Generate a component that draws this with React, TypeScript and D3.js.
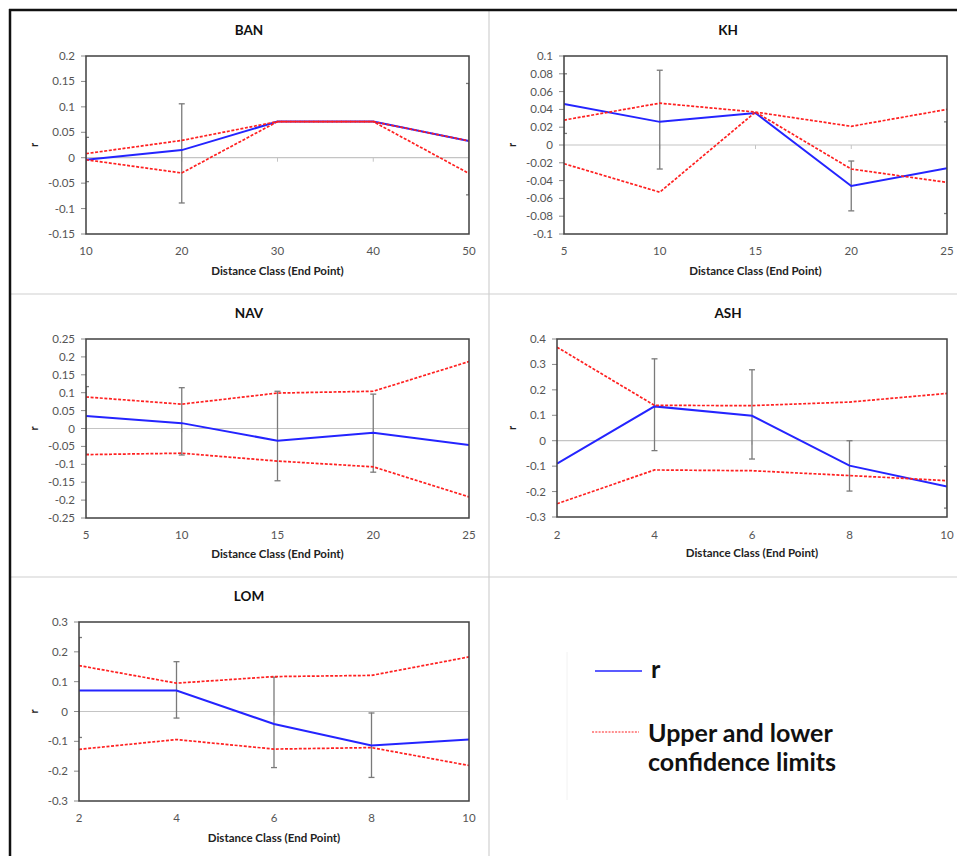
import React from "react";
import * as d3 from "d3";

// Mantel / spatial autocorrelation results per site
const panelNames = ["BAN", "KH", "NAV", "ASH", "LOM"];

const banX = [10, 20, 30, 40, 50];
const banR = [-0.004, 0.015, 0.071, 0.071, 0.033];
const banUpper = [0.008, 0.034, 0.071, 0.071, 0.033];
const banLower = [-0.004, -0.030, 0.071, 0.071, -0.031];
const banErrHigh = [0.040, 0.106, null, null, 0.146];
const banErrLow = [-0.047, -0.089, null, null, -0.073];
const banTicks = ["0.2", "0.15", "0.1", "0.05", "0", "-0.05", "-0.1", "-0.15"];

const khX = [5, 10, 15, 20, 25];
const khR = [0.046, 0.026, 0.036, -0.046, -0.026];
const khUpper = [0.028, 0.047, 0.037, 0.021, 0.040];
const khLower = [-0.021, -0.053, 0.037, -0.027, -0.042];
const khErrHigh = [0.080, 0.084, null, -0.018, 0.026];
const khErrLow = [0.013, -0.027, null, -0.074, -0.077];
const khTicks = ["0.1", "0.08", "0.06", "0.04", "0.02", "0", "-0.02", "-0.04", "-0.06", "-0.08", "-0.1"];

const navX = [5, 10, 15, 20, 25];
const navR = [0.035, 0.015, -0.034, -0.012, -0.046];
const navUpper = [0.088, 0.068, 0.099, 0.104, 0.187];
const navLower = [-0.073, -0.069, -0.091, -0.107, -0.191];
const navErrHigh = [0.117, 0.114, 0.104, 0.096, null];
const navErrLow = [-0.072, -0.074, -0.146, -0.122, null];
const navTicks = ["0.25", "0.2", "0.15", "0.1", "0.05", "0", "-0.05", "-0.1", "-0.15", "-0.2", "-0.25"];

const ashX = [2, 4, 6, 8, 10];
const ashR = [-0.090, 0.135, 0.098, -0.098, -0.180];
const ashUpper = [0.368, 0.139, 0.138, 0.152, 0.186];
const ashLower = [-0.248, -0.115, -0.118, -0.137, -0.157];
const ashErrHigh = [null, 0.322, 0.279, 0.0, -0.101];
const ashErrLow = [null, -0.039, -0.072, -0.198, -0.265];
const ashTicks = ["0.4", "0.3", "0.2", "0.1", "0", "-0.1", "-0.2", "-0.3"];

const lomX = [2, 4, 6, 8, 10];
const lomR = [0.070, 0.070, -0.042, -0.114, -0.094];
const lomUpper = [0.154, 0.095, 0.117, 0.121, 0.183];
const lomLower = [-0.127, -0.094, -0.126, -0.121, -0.181];
const lomErrHigh = [0.248, 0.167, 0.115, -0.005, null];
const lomErrLow = [-0.087, -0.022, -0.188, -0.221, null];
const lomTicks = ["0.3", "0.2", "0.1", "0", "-0.1", "-0.2", "-0.3"];

const xAxisTitle = "Distance Class (End Point)";
const yAxisTitle = "r";
const legendLabels = ["r", "Upper and lower", "confidence limits"];

type Series = {
  name: string;
  x: number[];
  r: number[];
  upper: number[];
  lower: number[];
  errHigh: (number | null)[];
  errLow: (number | null)[];
  ticks: string[];
};

const series: Series[] = [
  { name: panelNames[0], x: banX, r: banR, upper: banUpper, lower: banLower, errHigh: banErrHigh, errLow: banErrLow, ticks: banTicks },
  { name: panelNames[1], x: khX, r: khR, upper: khUpper, lower: khLower, errHigh: khErrHigh, errLow: khErrLow, ticks: khTicks },
  { name: panelNames[2], x: navX, r: navR, upper: navUpper, lower: navLower, errHigh: navErrHigh, errLow: navErrLow, ticks: navTicks },
  { name: panelNames[3], x: ashX, r: ashR, upper: ashUpper, lower: ashLower, errHigh: ashErrHigh, errLow: ashErrLow, ticks: ashTicks },
  { name: panelNames[4], x: lomX, r: lomR, upper: lomUpper, lower: lomLower, errHigh: lomErrHigh, errLow: lomErrLow, ticks: lomTicks },
];

// Panel geometry: plot rectangle, title centre, label rows
const layout = [
  { left: 86, right: 469, top: 56, bottom: 234, titleX: 249, titleY: 35, tickY: 255, axisTitleY: 275, rX: 38 },
  { left: 564, right: 947, top: 56, bottom: 234, titleX: 728, titleY: 35, tickY: 255, axisTitleY: 275, rX: 516 },
  { left: 86, right: 469, top: 339, bottom: 518, titleX: 249, titleY: 318, tickY: 539, axisTitleY: 558, rX: 38 },
  { left: 557, right: 947, top: 339, bottom: 517, titleX: 728, titleY: 318, tickY: 539, axisTitleY: 557, rX: 516 },
  { left: 79, right: 469, top: 622, bottom: 801, titleX: 249, titleY: 601, tickY: 822, axisTitleY: 842, rX: 38 },
];

const FONT = "Lato, 'Open Sans', sans-serif";
const BLUE = "#2424ff";
const RED = "#ff2020";

function Panel({ s, l, idx }: { s: Series; l: (typeof layout)[number]; idx: number }) {
  const tickVals = s.ticks.map(Number);
  const yMax = d3.max(tickVals) as number;
  const yMin = d3.min(tickVals) as number;
  const x = d3.scaleLinear().domain([s.x[0], s.x[s.x.length - 1]]).range([l.left, l.right]);
  const y = d3.scaleLinear().domain([yMin, yMax]).range([l.bottom, l.top]);
  const line = d3
    .line<number>()
    .x((_, i) => x(s.x[i]))
    .y((v) => y(v));
  const clipId = `plot-clip-${idx}`;
  const midX = (l.left + l.right) / 2;
  const midY = (l.top + l.bottom) / 2;

  return (
    <g>
      <defs>
        <clipPath id={clipId}>
          <rect x={l.left} y={l.top} width={l.right - l.left} height={l.bottom - l.top} />
        </clipPath>
      </defs>
      <text x={l.titleX} y={l.titleY} textAnchor="middle" fontFamily={FONT} fontWeight="bold" fontSize={13.5} fill="#111">
        {s.name}
      </text>
      {/* y ticks */}
      {s.ticks.map((t, i) => (
        <g key={i}>
          <line x1={l.left - 5} x2={l.left} y1={y(tickVals[i])} y2={y(tickVals[i])} stroke="#8a8a8a" strokeWidth={1} />
          <text x={l.left - 11} y={y(tickVals[i]) + 4} textAnchor="end" fontFamily={FONT} fontSize={11.5} fill="#555">
            {t}
          </text>
        </g>
      ))}
      {/* x tick labels */}
      {s.x.map((v, i) => (
        <text key={i} x={x(v)} y={l.tickY} textAnchor="middle" fontFamily={FONT} fontSize={11.5} fill="#555">
          {v}
        </text>
      ))}
      <text x={midX} y={l.axisTitleY} textAnchor="middle" fontFamily={FONT} fontWeight="bold" fontSize={11.5} fill="#222">
        {xAxisTitle}
      </text>
      <text
        transform={`translate(${l.rX},${midY}) rotate(-90)`}
        textAnchor="middle"
        fontFamily={FONT}
        fontWeight="bold"
        fontSize={11}
        fill="#222"
      >
        {yAxisTitle}
      </text>
      <g clipPath={`url(#${clipId})`}>
        {/* horizontal axis at r = 0 */}
        <line x1={l.left} x2={l.right} y1={y(0)} y2={y(0)} stroke="#c4c4c4" strokeWidth={1.2} />
        {s.x.map((v, i) => (
          <line key={i} x1={x(v)} x2={x(v)} y1={y(0)} y2={y(0) + 4} stroke="#c4c4c4" strokeWidth={1} />
        ))}
        {/* error bars */}
        {s.x.map((v, i) => {
          const hi = s.errHigh[i];
          const lo = s.errLow[i];
          if (hi === null || lo === null) return null;
          const cx = x(v);
          return (
            <g key={i} stroke="#7a7a7a" strokeWidth={1.3}>
              <line x1={cx} x2={cx} y1={y(hi)} y2={y(lo)} />
              <line x1={cx - 3} x2={cx + 3} y1={y(hi)} y2={y(hi)} />
              <line x1={cx - 3} x2={cx + 3} y1={y(lo)} y2={y(lo)} />
            </g>
          );
        })}
        <path d={line(s.r) ?? ""} fill="none" stroke={BLUE} strokeWidth={2} />
        <path d={line(s.upper) ?? ""} fill="none" stroke={RED} strokeWidth={1.7} strokeDasharray="3,1.6" />
        <path d={line(s.lower) ?? ""} fill="none" stroke={RED} strokeWidth={1.7} strokeDasharray="3,1.6" />
      </g>
      <rect
        x={l.left}
        y={l.top}
        width={l.right - l.left}
        height={l.bottom - l.top}
        fill="none"
        stroke="#404040"
        strokeWidth={1.5}
      />
    </g>
  );
}

export default function App() {
  return (
    <svg
      width={957}
      height={856}
      style={{ position: "absolute", left: 0, top: 0, background: "#fff" }}
      xmlns="http://www.w3.org/2000/svg"
    >
      <rect x={0} y={0} width={957} height={856} fill="#fff" />
      {/* outer frame and panel separators */}
      <line x1={489} x2={489} y1={10} y2={856} stroke="#d0d0d0" strokeWidth={1.2} />
      <line x1={10} x2={957} y1={294} y2={294} stroke="#d0d0d0" strokeWidth={1.2} />
      <line x1={10} x2={957} y1={577} y2={577} stroke="#d0d0d0" strokeWidth={1.2} />
      <line x1={9} x2={957} y1={10} y2={10} stroke="#111" strokeWidth={2.5} />
      <line x1={10} x2={10} y1={9} y2={856} stroke="#111" strokeWidth={2.5} />

      {series.map((s, i) => (
        <Panel key={s.name} s={s} l={layout[i]} idx={i} />
      ))}

      {/* legend */}
      <line x1={567} x2={567} y1={652} y2={800} stroke="#f2f2f2" strokeWidth={1} />
      <line x1={595} x2={642} y1={671} y2={671} stroke={BLUE} strokeWidth={1.5} />
      <text x={651} y={678} fontFamily={FONT} fontWeight="bold" fontSize={25} fill="#111">
        {legendLabels[0]}
      </text>
      <line x1={592} x2={639} y1={732} y2={732} stroke={RED} strokeWidth={1.2} strokeDasharray="2,1.3" />
      <text x={648} y={742} fontFamily={FONT} fontWeight="bold" fontSize={25} fill="#111">
        {legendLabels[1]}
      </text>
      <text x={648} y={771} fontFamily={FONT} fontWeight="bold" fontSize={25} fill="#111">
        {legendLabels[2]}
      </text>
    </svg>
  );
}
